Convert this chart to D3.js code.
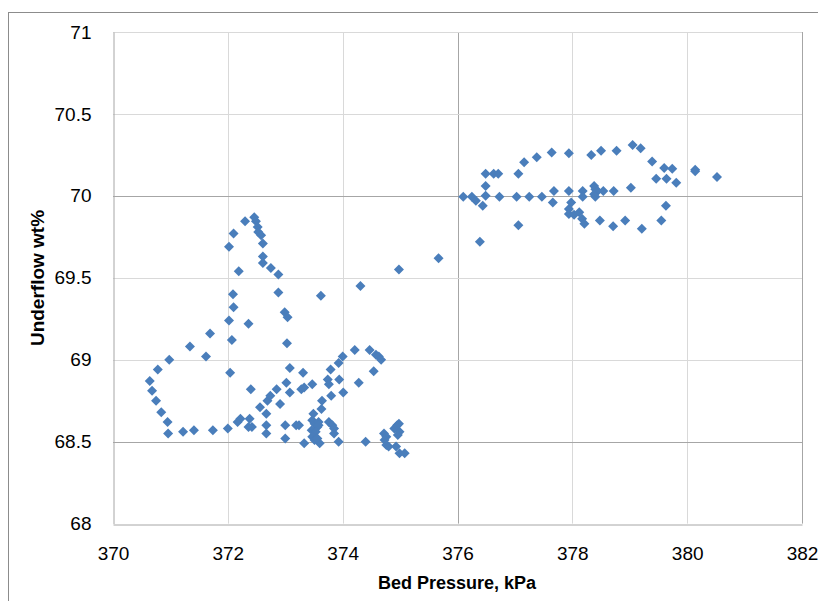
<!DOCTYPE html>
<html>
<head>
<meta charset="utf-8">
<script src="https://cdn.jsdelivr.net/npm/d3@7"></script>
<style>
  html, body { margin: 0; padding: 0; background: #fff; }
  svg { display: block; }
  text { font-family: "Liberation Sans", Arial, sans-serif; fill: #000; }
</style>
</head>
<body>
<div id="chart"></div>
<script>
// ---- Data ----
const bedPressure = [
  370.64, 370.68, 370.75, 370.84, 370.95, 370.96, 371.22, 371.41, 371.74, 372.00,
  370.78, 370.98, 371.34, 371.62, 371.69, 372.04, 372.07, 372.02, 372.10, 372.09,
  372.19, 372.02, 372.10, 372.30, 372.46, 372.49, 372.52, 372.53, 372.58, 372.61,
  372.61, 372.61, 372.75, 372.88, 372.88, 372.99, 373.04, 373.03, 372.36, 372.40,
  372.17, 372.22, 372.38, 372.36, 372.42, 372.56, 372.67, 372.69, 372.74, 372.67,
  372.67, 372.85, 372.91, 373.02, 373.08, 373.08, 373.00, 373.00, 373.19, 373.24,
  373.31, 373.28, 373.33, 373.33, 373.47, 373.49, 373.47, 373.51, 373.58, 373.56,
  373.46, 373.53, 373.47, 373.51, 373.60, 373.56, 373.58, 373.64, 373.63, 373.74,
  373.76, 373.62, 373.79, 373.80, 373.76, 373.82, 373.85, 373.85, 373.93, 373.94,
  373.93, 374.00, 374.01, 374.21, 374.28, 374.31, 374.47, 374.54, 374.58, 374.63,
  374.67, 374.40, 374.72, 374.76, 374.73, 374.76, 374.80, 374.90, 374.95, 374.98,
  374.99, 374.96, 374.93, 374.99, 375.08, 374.98, 375.67,
  376.10, 376.25, 376.32, 376.44, 376.49, 376.49, 376.49, 376.63, 376.71, 376.39,
  376.73, 377.03, 377.25, 377.47, 377.06, 377.06, 377.16, 377.38, 377.64, 377.94,
  377.68, 377.94, 377.66, 377.98, 377.94, 377.94, 378.03, 378.12, 378.17, 378.21,
  378.18, 378.18, 378.38, 378.40, 378.44, 378.38, 378.40, 378.54, 378.72, 378.33,
  378.50, 378.77, 378.48, 378.71, 378.92, 379.02, 379.05, 379.19, 379.21, 379.39,
  379.46, 379.55, 379.60, 379.74, 379.64, 379.63, 379.81, 380.14, 380.14, 380.52
];
const underflowWt = [
  68.87, 68.81, 68.75, 68.68, 68.62, 68.55, 68.56, 68.57, 68.57, 68.58,
  68.94, 69.00, 69.08, 69.02, 69.16, 68.92, 69.12, 69.24, 69.32, 69.40,
  69.54, 69.69, 69.77, 69.845, 69.87, 69.845, 69.81, 69.78, 69.76, 69.71,
  69.63, 69.59, 69.56, 69.52, 69.41, 69.29, 69.26, 69.10, 69.22, 68.82,
  68.62, 68.64, 68.64, 68.59, 68.59, 68.71, 68.67, 68.75, 68.78, 68.60,
  68.55, 68.82, 68.73, 68.86, 68.95, 68.80, 68.60, 68.52, 68.60, 68.60,
  68.92, 68.82, 68.83, 68.49, 68.85, 68.67, 68.63, 68.61, 68.62, 68.59,
  68.57, 68.56, 68.53, 68.51, 68.49, 68.52, 68.60, 68.75, 68.70, 68.88,
  68.85, 69.39, 68.94, 68.78, 68.62, 68.60, 68.58, 68.55, 68.50, 68.88,
  68.98, 69.02, 68.80, 69.06, 68.86, 69.45, 69.06, 68.93, 69.03, 69.02,
  69.00, 68.50, 68.55, 68.53, 68.51, 68.48, 68.47, 68.58, 68.60, 68.61,
  68.56, 68.54, 68.47, 68.43, 68.43, 69.55, 69.62,
  69.995, 69.995, 69.97, 69.94, 70.00, 70.06, 70.135, 70.135, 70.135, 69.72,
  69.995, 69.995, 69.995, 69.995, 70.135, 69.82, 70.205, 70.235, 70.265, 70.26,
  70.03, 70.03, 69.96, 69.96, 69.92, 69.89, 69.885, 69.90, 69.86, 69.83,
  70.03, 69.995, 70.06, 70.04, 70.03, 70.01, 69.995, 70.03, 70.03, 70.25,
  70.275, 70.275, 69.85, 69.815, 69.85, 70.05, 70.31, 70.29, 69.80, 70.21,
  70.105, 69.85, 70.17, 70.165, 70.105, 69.94, 70.08, 70.16, 70.15, 70.115
];
const xTicks = [370, 372, 374, 376, 378, 380, 382];
const yTicks = [68, 68.5, 69, 69.5, 70, 70.5, 71];
const xTitle = "Bed Pressure, kPa";
const yTitle = "Underflow wt%";

// ---- Layout ----
const W = 818, H = 601;
const plot = { left: 113, right: 802, top: 32, bottom: 523.6 };
const darkLinesX = [376];
const darkLinesY = [70, 68.5];

const svg = d3.select("#chart").append("svg")
  .attr("width", W).attr("height", H);

// outer chart border
svg.append("rect")
  .attr("x", 8.5).attr("y", 12.5)
  .attr("width", W + 20).attr("height", H + 20)
  .attr("fill", "none").attr("stroke", "#8c8c8c").attr("stroke-width", 1);

const x = d3.scaleLinear().domain([370, 382]).range([plot.left, plot.right]);
const y = d3.scaleLinear().domain([68, 71]).range([plot.bottom, plot.top]);

// gridlines
const grid = svg.append("g");
grid.selectAll("line.vx").data(xTicks.slice(1)).enter().append("line")
  .attr("x1", d => Math.round(x(d)) + 0.5).attr("x2", d => Math.round(x(d)) + 0.5)
  .attr("y1", plot.top).attr("y2", plot.bottom)
  .attr("stroke", d => darkLinesX.includes(d) || d === 382 ? "#a6a6a6" : "#d9d9d9")
  .attr("stroke-width", 1);
grid.selectAll("line.hy").data(yTicks.slice(1)).enter().append("line")
  .attr("x1", plot.left).attr("x2", plot.right)
  .attr("y1", d => Math.round(y(d)) + 0.5).attr("y2", d => Math.round(y(d)) + 0.5)
  .attr("stroke", d => darkLinesY.includes(d) ? "#a6a6a6" : "#d9d9d9")
  .attr("stroke-width", 1);

// axes
const xAxis = d3.axisBottom(x).tickValues(xTicks).tickSize(0).tickPadding(0)
  .tickFormat(d3.format("d"));
const gx = svg.append("g")
  .attr("transform", `translate(0,${Math.round(plot.bottom) + 0.5})`)
  .call(xAxis);
gx.select(".domain").attr("stroke", "#a6a6a6");
gx.selectAll("text").attr("font-size", 19).attr("dy", 0).attr("y", 35)
  .style("font-family", '"Liberation Sans", Arial, sans-serif').attr("fill", "#000");

const yAxis = d3.axisLeft(y).tickValues(yTicks).tickSize(0).tickPadding(22)
  .tickFormat(d => String(d));
const gy = svg.append("g")
  .attr("transform", `translate(${plot.left + 0.5},0)`)
  .call(yAxis);
gy.select(".domain").attr("stroke", "#a6a6a6");
gy.selectAll("text").attr("font-size", 19)
  .style("font-family", '"Liberation Sans", Arial, sans-serif').attr("fill", "#000");

// axis titles
svg.append("text")
  .attr("x", 457).attr("y", 589)
  .attr("text-anchor", "middle")
  .attr("font-size", 18).attr("font-weight", "bold")
  .text(xTitle);
svg.append("text")
  .attr("transform", "translate(44,278) rotate(-90)")
  .attr("text-anchor", "middle")
  .attr("font-size", 19).attr("font-weight", "bold")
  .text(yTitle);

// points
const pts = bedPressure.map((b, i) => ({ b, u: underflowWt[i] }));
const r = 5;
const diamond = `M0,${-r}L${r},0L0,${r}L${-r},0Z`;
svg.append("g").selectAll("path").data(pts).enter().append("path")
  .attr("transform", d => `translate(${x(d.b)},${y(d.u)})`)
  .attr("d", diamond)
  .attr("fill", "#4a7ebb");
</script>
</body>
</html>
